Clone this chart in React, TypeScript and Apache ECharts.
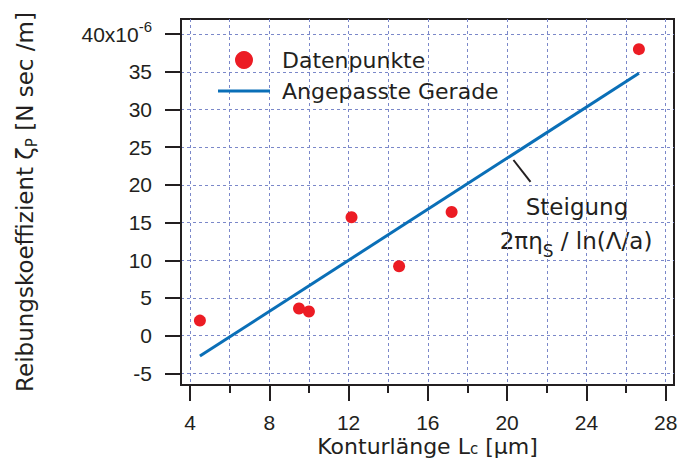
import React, { useEffect, useRef } from 'react';
import * as echarts from 'echarts';

// Data points (Konturlänge in µm, Reibungskoeffizient in 10^-6 N sec/m)
const pointsX = [4.5, 9.5, 10.0, 12.15, 14.55, 17.2, 26.65];
const pointsY = [2.0, 3.6, 3.2, 15.7, 9.2, 16.4, 38.0];
// Fitted straight line endpoints
const fitX = [4.5, 26.65];
const fitY = [-2.7, 34.8];
// Ticks
const xAllTicks = [4, 6, 8, 10, 12, 14, 16, 18, 20, 22, 24, 26, 28];
const xMajorTicks = [4, 8, 12, 16, 20, 24, 28];
const yTicks = [-5, 0, 5, 10, 15, 20, 25, 30, 35, 40];
// Leader line for the slope annotation (data coords)
const leaderStart = [20.32, 23.3];
const leaderEnd = [21.18, 20.4];

const INK = '#231f20';
const GRIDC = '#7b88c9';
const RED = '#ec1c24';
const BLUE = '#0a6fb7';
const TICKFONT = '"Liberation Sans", Arial, sans-serif';
const TEXTFONT = '"DejaVu Sans", sans-serif';

const X_MIN = 3.546;
const X_MAX = 28.42;
const Y_MIN = -6.54;
const Y_MAX = 42;

export default function App() {
  const ref = useRef<HTMLDivElement>(null);
  useEffect(() => {
    if (!ref.current) return;
    const chart = echarts.init(ref.current, null, { renderer: 'svg' });
    const gridRect = { left: 181, right: 4, top: 19, bottom: 76, outerBoundsMode: 'none', containLabel: false };
    const option: any = {
      animation: false,
      backgroundColor: '#ffffff',
      textStyle: { fontFamily: TEXTFONT, color: INK },
      grid: [
        { ...gridRect, show: true, borderColor: INK, borderWidth: 2, backgroundColor: 'transparent' },
        { ...gridRect, show: false },
      ],
      legend: {
        left: 218,
        top: 49,
        orient: 'vertical',
        padding: 0,
        itemWidth: 52,
        itemHeight: 18,
        itemGap: 9,
        textStyle: { fontSize: 22, fontFamily: TEXTFONT, color: INK, padding: [0, 0, 0, 7] },
        data: [
          { name: 'Datenpunkte', icon: 'circle' },
          { name: 'Angepasste Gerade', icon: 'path://M0,0 H52 V3 H0 Z' },
        ],
      },
      xAxis: [
        {
          gridIndex: 0,
          type: 'value',
          min: X_MIN,
          max: X_MAX,
          axisLine: { show: true, onZero: false, lineStyle: { color: INK, width: 2 } },
          axisTick: { show: true, customValues: xAllTicks, length: 8, lineStyle: { color: INK, width: 2 } },
          splitLine: { show: true, lineStyle: { color: GRIDC, type: [3, 3], width: 1 } },
          axisLabel: {
            customValues: xMajorTicks,
            margin: 27,
            fontSize: 21,
            lineHeight: 20,
            fontFamily: TICKFONT,
            color: INK,
          },
          name: '{n|Konturlänge L}{sub|c}{n| [µm]}',
          nameLocation: 'middle',
          nameGap: 51,
          nameMoveOverlap: false,
          nameTextStyle: {
            fontSize: 22,
            fontFamily: TEXTFONT,
            color: INK,
            rich: {
              n: { fontSize: 22, fontFamily: TEXTFONT, color: INK, lineHeight: 20 },
              sub: { fontSize: 15, fontFamily: TEXTFONT, color: INK, lineHeight: 10, verticalAlign: 'bottom' },
            },
          },
        },
        {
          gridIndex: 1,
          type: 'value',
          min: X_MIN,
          max: X_MAX,
          axisLine: { show: false, onZero: false },
          axisTick: { show: true, customValues: xMajorTicks, length: 16, lineStyle: { color: INK, width: 2 } },
          axisLabel: { show: false },
          splitLine: { show: false },
        },
      ],
      yAxis: [
        {
          gridIndex: 0,
          type: 'value',
          min: Y_MIN,
          max: Y_MAX,
          axisLine: { show: true, onZero: false, lineStyle: { color: INK, width: 2 } },
          axisTick: { show: true, customValues: yTicks, length: 16, lineStyle: { color: INK, width: 2 } },
          splitLine: { show: true, lineStyle: { color: GRIDC, type: [3, 3], width: 1 } },
          axisLabel: {
            customValues: yTicks,
            margin: 29,
            fontSize: 21,
            fontFamily: TICKFONT,
            color: INK,
            formatter: (v: number) => (v === 40 ? '{n|40x10}{sup|-6}' : '{n|' + v + '}'),
            rich: {
              n: { fontSize: 21, fontFamily: TICKFONT, color: INK, lineHeight: 30 },
              sup: { fontSize: 15, fontFamily: TICKFONT, color: INK, lineHeight: 15, verticalAlign: 'top' },
            },
          },
          name: '{n|Reibungskoeffizient ζ}{sub|P}{n| [N sec /m]}',
          nameLocation: 'middle',
          nameRotate: 90,
          nameGap: 142,
          nameMoveOverlap: false,
          nameTextStyle: {
            fontSize: 23,
            fontFamily: TEXTFONT,
            color: INK,
            rich: {
              n: { fontSize: 23, fontFamily: TEXTFONT, color: INK, lineHeight: 28 },
              sub: { fontSize: 15, fontFamily: TEXTFONT, color: INK, lineHeight: 15, verticalAlign: 'bottom' },
            },
          },
        },
        {
          gridIndex: 1,
          type: 'value',
          min: Y_MIN,
          max: Y_MAX,
          show: false,
        },
      ],
      series: [
        {
          type: 'line',
          name: 'Angepasste Gerade',
          xAxisIndex: 0,
          yAxisIndex: 0,
          data: fitX.map((x, i) => [x, fitY[i]]),
          showSymbol: false,
          symbol: 'none',
          lineStyle: { color: BLUE, width: 3 },
          itemStyle: { color: BLUE },
          markLine: {
            silent: true,
            symbol: ['none', 'none'],
            label: { show: false },
            lineStyle: { color: INK, width: 2, type: 'solid' },
            data: [[{ coord: leaderStart }, { coord: leaderEnd }]],
          },
        },
        {
          type: 'scatter',
          name: 'Datenpunkte',
          xAxisIndex: 0,
          yAxisIndex: 0,
          data: pointsX.map((x, i) => [x, pointsY[i]]),
          symbol: 'circle',
          symbolSize: 12,
          itemStyle: { color: RED, opacity: 1 },
        },
      ],
      graphic: [
        {
          type: 'text',
          x: 577,
          y: 207,
          style: {
            text: 'Steigung',
            fontSize: 23,
            fontFamily: TEXTFONT,
            fill: INK,
            align: 'center',
            verticalAlign: 'middle',
          },
        },
        {
          type: 'text',
          x: 576,
          y: 241,
          style: {
            text: '{n|2πη}{sub|S}{n| / ln(Λ/a)}',
            fontSize: 23,
            fontFamily: TEXTFONT,
            fill: INK,
            align: 'center',
            verticalAlign: 'middle',
            rich: {
              n: { fontSize: 23, fontFamily: TEXTFONT, fill: INK, lineHeight: 37 },
              sub: { fontSize: 17, fontFamily: TEXTFONT, fill: INK, lineHeight: 17, verticalAlign: 'bottom' },
            },
          },
        },
      ],
    };
    chart.setOption(option);
    return () => chart.dispose();
  }, []);
  return (
    <div
      ref={ref}
      style={{ position: 'fixed', left: 0, top: 0, width: 678, height: 461, background: '#fff' }}
    />
  );
}
